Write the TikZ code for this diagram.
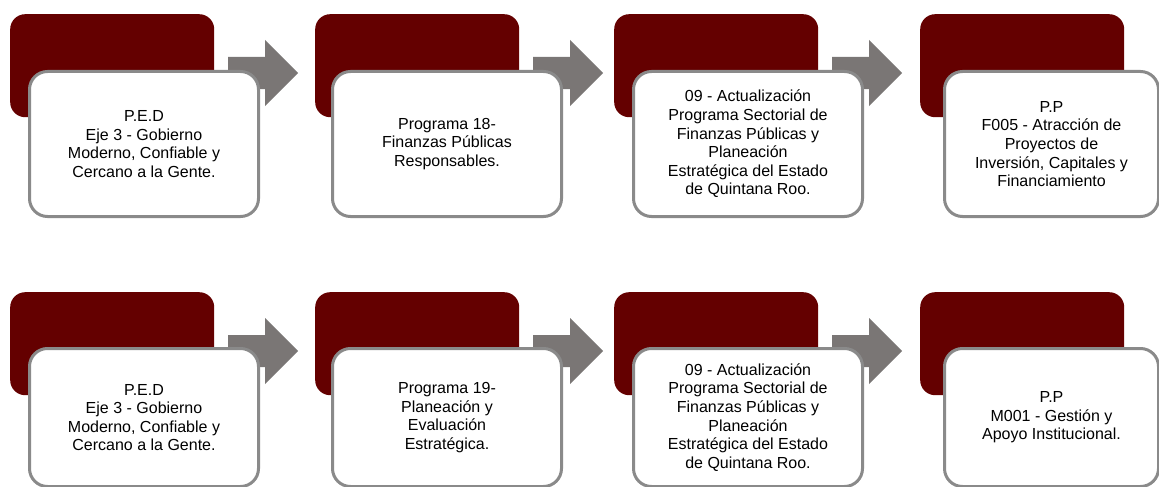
\documentclass[tikz,border=0pt]{standalone}
\usepackage{fontspec}
\setmainfont{Liberation Sans}
\definecolor{vino}{HTML}{640000}
\definecolor{flecha}{HTML}{7A7675}
\definecolor{borde}{HTML}{8A8A8A}
\tikzset{
  fondo/.style={fill=vino, rounded corners=15pt, minimum width=204pt,
    minimum height=103pt, inner sep=0pt, anchor=north west},
  caja/.style={fill=white, draw=borde, line width=3pt, rounded corners=18pt,
    minimum width=#1, inner sep=0pt, anchor=north west, align=center,
    font=\fontsize{16}{18.6}\selectfont},
  caja/.default=229pt,
  alta/.style={minimum height=145pt},
  baja/.style={minimum height=138pt}
}
\begin{document}
\begin{tikzpicture}[x=1pt,y=-1pt]
\useasboundingbox (0,0) rectangle (1159,487);

% dark backing boxes and block arrows
\foreach \r/\y in {1/14,2/292} {
  \foreach \c/\x in {1/10,2/315,3/614,4/920} {
    \node[fondo] (f\r\c) at (\x,\y) {};
  }
  \foreach \c/\x in {1/10,2/315,3/614} {
    \fill[flecha] (\x+218,\y+43) -- ++(37,0) -- ++(0,-17) -- ++(33,33)
      -- ++(-33,33) -- ++(0,-17) -- ++(-37,0) -- cycle;
  }
}

% top row
\node[caja, alta] (c11) at ([shift={(18,56)}]f11.north west)
  {P.E.D\\Eje 3 - Gobierno\\Moderno, Confiable y\\Cercano a la Gente.};
\node[caja, alta] (c12) at ([shift={(16,56)}]f12.north west)
  {Programa 18-\\Finanzas Públicas\\Responsables.};
\node[caja, alta] (c13) at ([shift={(18,56)}]f13.north west)
  {09 - Actualización\\Programa Sectorial de\\Finanzas Públicas y\\Planeación\\Estratégica del Estado\\de Quintana Roo.};
\node[caja=214pt, alta] (c14) at ([shift={(23,56)}]f14.north west)
  {P.P\\F005 - Atracción de\\Proyectos de\\Inversión, Capitales y\\Financiamiento};

% bottom row
\node[caja, baja] (c21) at ([shift={(18,55)}]f21.north west)
  {P.E.D\\Eje 3 - Gobierno\\Moderno, Confiable y\\Cercano a la Gente.};
\node[caja, baja] (c22) at ([shift={(16,55)}]f22.north west)
  {Programa 19-\\Planeación y\\Evaluación\\Estratégica.};
\node[caja, baja] (c23) at ([shift={(18,55)}]f23.north west)
  {09 - Actualización\\Programa Sectorial de\\Finanzas Públicas y\\Planeación\\Estratégica del Estado\\de Quintana Roo.};
\node[caja=214pt, baja] (c24) at ([shift={(23,55)}]f24.north west)
  {P.P\\M001 - Gestión y\\Apoyo Institucional.};

\end{tikzpicture}
\end{document}
